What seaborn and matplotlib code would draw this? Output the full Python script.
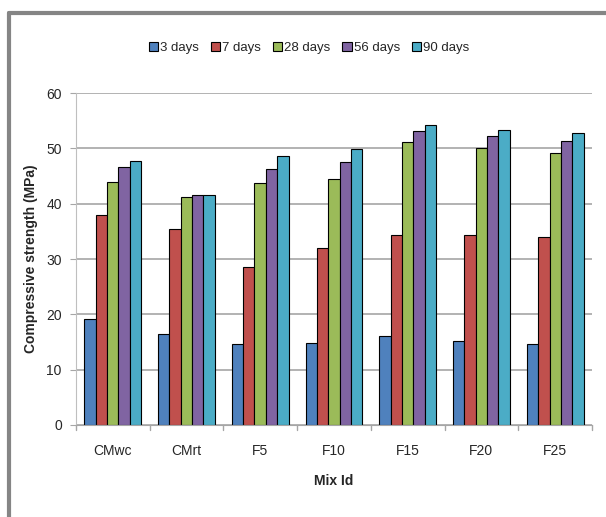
import matplotlib
matplotlib.use("Agg")
import matplotlib.pyplot as plt
from matplotlib.lines import Line2D
import seaborn as sns
import pandas as pd

mixes = ["CMwc", "CMrt", "F5", "F10", "F15", "F20", "F25"]
ages = ["3 days", "7 days", "28 days", "56 days", "90 days"]
d3 = [19.2, 16.4, 14.6, 14.8, 16.0, 15.1, 14.6]
d7 = [37.9, 35.5, 28.5, 32.0, 34.4, 34.4, 34.0]
d28 = [44.0, 41.2, 43.8, 44.4, 51.2, 50.1, 49.2]
d56 = [46.6, 41.6, 46.3, 47.6, 53.1, 52.2, 51.4]
d90 = [47.8, 41.6, 48.6, 49.9, 54.2, 53.3, 52.7]
colors = ["#4F81BD", "#C0504D", "#9BBB59", "#8064A2", "#4BACC6"]

rows = []
for age, vals in zip(ages, [d3, d7, d28, d56, d90]):
    for m, v in zip(mixes, vals):
        rows.append({"Mix Id": m, "Age": age, "Strength": v})
df = pd.DataFrame(rows)

sns.set_style("white")
plt.rcParams["font.family"] = ["Liberation Sans", "DejaVu Sans"]

fig = plt.figure(figsize=(6.06, 5.17), dpi=100)
ax = fig.add_axes([0.125, 0.178, 0.852, 0.642])

sns.barplot(data=df, x="Mix Id", y="Strength", hue="Age", order=mixes,
            hue_order=ages, palette=colors, saturation=1, width=0.77, gap=0,
            edgecolor="black", linewidth=0.8, ax=ax, legend=True)

ax.set_ylim(0, 60)
ax.set_yticks(range(0, 61, 10))
ax.set_xlim(-0.5, 6.5)
ax.yaxis.grid(True, color="#A6A6A6", linewidth=1.2)
ax.set_axisbelow(True)
for s in ["top", "right"]:
    ax.spines[s].set_visible(False)
ax.spines["left"].set_color("#BFBFBF")
ax.spines["bottom"].set_color("#A6A6A6")
ax.tick_params(axis="y", left=True, length=4, color="#A6A6A6", labelsize=10, pad=6)
ax.tick_params(axis="x", bottom=False, labelsize=10, pad=10)
for b in [i + 0.5 for i in range(-1, 7)]:
    ax.plot([b, b], [0, -0.015], transform=ax.get_xaxis_transform(),
            color="#A6A6A6", linewidth=1, clip_on=False)

ax.set_xlabel("Mix Id", fontsize=10, fontweight="bold", labelpad=12)
ax.set_ylabel("Compressive strength (MPa)", fontsize=10, fontweight="bold", labelpad=6)

ax.legend(loc="center", bbox_to_anchor=(0.51, 0.907),
          bbox_transform=fig.transFigure,
          ncol=5, frameon=False, fontsize=9.5, handlelength=0.7, handleheight=0.7,
          handletextpad=0.15, columnspacing=0.9)

fig.add_artist(Line2D([9 / 606, 9 / 606], [0, 1 - 13 / 517], color="#858585",
                      linewidth=3, transform=fig.transFigure))
fig.add_artist(Line2D([9 / 606, 1], [1 - 13 / 517, 1 - 13 / 517], color="#858585",
                      linewidth=3, transform=fig.transFigure))

fig.savefig("out.png", dpi=100)
